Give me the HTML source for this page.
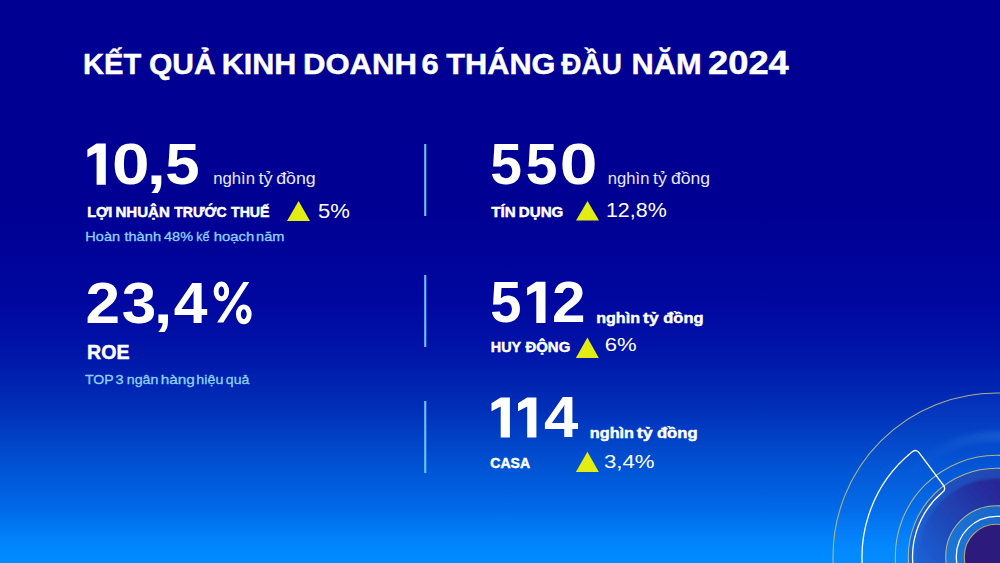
<!DOCTYPE html>
<html><head><meta charset="utf-8"><style>
html,body{margin:0;padding:0;width:1000px;height:563px;overflow:hidden;background:#000092}
svg{display:block;position:absolute;left:0;top:0}
text{font-family:"Liberation Sans",sans-serif}
.b{font-weight:bold}
</style></head><body>
<svg width="1000" height="563" viewBox="0 0 1000 563">
<defs>
<linearGradient id="bg" gradientUnits="userSpaceOnUse" x1="0" y1="0" x2="0" y2="563">
<stop offset="0" stop-color="#000092"/>
<stop offset="0.355" stop-color="#000092"/>
<stop offset="0.444" stop-color="#000398"/>
<stop offset="0.542" stop-color="#0008a0"/>
<stop offset="0.622" stop-color="#0014a8"/>
<stop offset="0.728" stop-color="#0030b8"/>
<stop offset="0.835" stop-color="#0055d5"/>
<stop offset="0.906" stop-color="#006ae8"/>
<stop offset="0.938" stop-color="#007af5"/>
<stop offset="0.977" stop-color="#0088ff"/>
<stop offset="1" stop-color="#008cff"/>
</linearGradient>
<linearGradient id="inner" gradientUnits="userSpaceOnUse" x1="1040" y1="480" x2="930" y2="580">
<stop offset="0" stop-color="#29208c"/>
<stop offset="0.3" stop-color="#262a9a"/>
<stop offset="0.7" stop-color="#1e4cbc"/>
<stop offset="1" stop-color="#1a62d6"/>
</linearGradient>
<linearGradient id="band" gradientUnits="userSpaceOnUse" x1="1040" y1="480" x2="930" y2="580">
<stop offset="0" stop-color="#2442aa"/>
<stop offset="0.5" stop-color="#1e50c0"/>
<stop offset="1" stop-color="#1a68da"/>
</linearGradient>
<linearGradient id="ring" gradientUnits="userSpaceOnUse" x1="1030" y1="520" x2="950" y2="570">
<stop offset="0" stop-color="#1a60c4"/>
<stop offset="1" stop-color="#1a78dc"/>
</linearGradient>
<linearGradient id="glow" gradientUnits="userSpaceOnUse" x1="900" y1="0" x2="1000" y2="0">
<stop offset="0" stop-color="#5aa8ff" stop-opacity="0"/>
<stop offset="0.4" stop-color="#5aa8ff" stop-opacity="0.05"/>
<stop offset="1" stop-color="#5aa8ff" stop-opacity="0.2"/>
</linearGradient>
<filter id="blur2" x="-20%" y="-20%" width="140%" height="140%"><feGaussianBlur stdDeviation="2.5"/></filter>
<filter id="blur1" x="-20%" y="-20%" width="140%" height="140%"><feGaussianBlur stdDeviation="1.2"/></filter>
</defs>
<rect width="1000" height="563" fill="url(#bg)"/>

<!-- decoration -->
<g fill="none">
<circle cx="996.6" cy="556.6" r="163.6" fill="#4aa0ff" fill-opacity="0.06"/>
<circle cx="996.6" cy="556.6" r="120.5" stroke="url(#glow)" stroke-width="10" filter="url(#blur2)"/>
<circle cx="996.6" cy="556.6" r="88.3" fill="url(#band)"/>
<circle cx="996.6" cy="556.6" r="78" fill="url(#inner)" filter="url(#blur1)"/>
<circle cx="996.6" cy="556.6" r="50.85" fill="url(#ring)"/>
<circle cx="996.6" cy="556.6" r="32.3" fill="#2c1a7c"/>
<circle cx="996.6" cy="556.6" r="163.6" stroke="#bcbc88" stroke-width="1.1" stroke-opacity="0.9"/>
<circle cx="996.6" cy="556.6" r="101.3" stroke="#bcbc88" stroke-width="1.1" stroke-opacity="0.9"/>
<circle cx="996.6" cy="556.6" r="88.3" stroke="#bcbc88" stroke-width="1.1" stroke-opacity="0.9"/>
<circle cx="996.6" cy="556.6" r="50.85" stroke="#bcbc88" stroke-width="1.1" stroke-opacity="0.9"/>
<circle cx="996.6" cy="556.6" r="40.3" stroke="#ffffff" stroke-width="1.3"/>
<circle cx="996.6" cy="556.6" r="32.3" stroke="#b8a070" stroke-width="1.1"/>
</g>
<!-- white annular sector -->
<path id="sector" d="M866.68 591.41 A134.50 134.50 0 0 1 912.27 451.82 Q916.22 448.76 919.21 452.77 L943.41 485.24 Q946.40 489.25 942.48 492.36 A84.00 84.00 0 0 0 915.46 578.34" fill="none" stroke="#fff" stroke-width="1.3" stroke-linejoin="round"/>

<!-- divider lines -->
<g fill="#6cc4ff">
<rect x="424.2" y="144" width="2.1" height="72"/>
<rect x="424.2" y="275" width="2.1" height="72"/>
<rect x="424.2" y="401" width="2.1" height="72"/>
</g>

<!-- triangles -->
<g fill="#e2ee12">
<polygon points="287,221 310,221 298.6,201"/>
<polygon points="576,220.6 599,220.6 587.5,201"/>
<polygon points="575.9,357.9 598.8,357.9 587.4,337.6"/>
<polygon points="575.9,471.9 598.8,471.9 587.4,451.7"/>
</g>

<g>
<text x="83.06" y="74.30" font-size="30" font-weight="bold" fill="#fffffe" stroke="#fff" stroke-width="0.45" textLength="58.24" lengthAdjust="spacingAndGlyphs">KẾT</text>
<text x="149.00" y="74.30" font-size="30" font-weight="bold" fill="#fffffe" stroke="#fff" stroke-width="0.45" textLength="66.67" lengthAdjust="spacingAndGlyphs">QUẢ</text>
<text x="221.77" y="74.30" font-size="30" font-weight="bold" fill="#fffffe" stroke="#fff" stroke-width="0.45" textLength="74.60" lengthAdjust="spacingAndGlyphs">KINH</text>
<text x="302.92" y="74.30" font-size="30" font-weight="bold" fill="#fffffe" stroke="#fff" stroke-width="0.45" textLength="114.15" lengthAdjust="spacingAndGlyphs">DOANH</text>
<text x="421.47" y="74.30" font-size="30" font-weight="bold" fill="#fffffe" stroke="#fff" stroke-width="0.45" textLength="17.24" lengthAdjust="spacingAndGlyphs">6</text>
<text x="446.30" y="74.30" font-size="30" font-weight="bold" fill="#fffffe" stroke="#fff" stroke-width="0.45" textLength="109.20" lengthAdjust="spacingAndGlyphs">THÁNG</text>
<text x="561.30" y="74.30" font-size="30" font-weight="bold" fill="#fffffe" stroke="#fff" stroke-width="0.45" textLength="60.56" lengthAdjust="spacingAndGlyphs">ĐẦU</text>
<text x="631.45" y="74.30" font-size="30" font-weight="bold" fill="#fffffe" stroke="#fff" stroke-width="0.45" textLength="70.14" lengthAdjust="spacingAndGlyphs">NĂM</text>
<text x="707.98" y="74.30" font-size="32.6" font-weight="bold" fill="#fffffe" stroke="#fff" stroke-width="0.45" textLength="80.86" lengthAdjust="spacingAndGlyphs">2024</text>
<text x="112.07" y="184.20" font-size="58" font-weight="bold" fill="#ffffff" textLength="37.57" lengthAdjust="spacingAndGlyphs">0</text>
<text x="146.75" y="184.20" font-size="58" font-weight="bold" fill="#ffffff" textLength="19.15" lengthAdjust="spacingAndGlyphs">,</text>
<text x="165.17" y="184.20" font-size="58" font-weight="bold" fill="#ffffff" textLength="34.38" lengthAdjust="spacingAndGlyphs">5</text>
<text x="213.15" y="184.40" font-size="16" fill="#e8e8ff" textLength="41.94" lengthAdjust="spacingAndGlyphs">nghìn</text>
<text x="258.40" y="184.40" font-size="16" fill="#e8e8ff" textLength="14.27" lengthAdjust="spacingAndGlyphs">tỷ</text>
<text x="276.19" y="184.40" font-size="16" fill="#e8e8ff" textLength="39.57" lengthAdjust="spacingAndGlyphs">đồng</text>
<text x="87.17" y="216.80" font-size="14" font-weight="bold" fill="#ffffff" stroke="#fff" stroke-width="0.45" textLength="25.24" lengthAdjust="spacingAndGlyphs">LỢI</text>
<text x="115.42" y="216.80" font-size="14" font-weight="bold" fill="#ffffff" stroke="#fff" stroke-width="0.45" textLength="54.38" lengthAdjust="spacingAndGlyphs">NHUẬN</text>
<text x="174.30" y="216.80" font-size="14" font-weight="bold" fill="#ffffff" stroke="#fff" stroke-width="0.45" textLength="52.34" lengthAdjust="spacingAndGlyphs">TRƯỚC</text>
<text x="231.00" y="216.80" font-size="14" font-weight="bold" fill="#ffffff" stroke="#fff" stroke-width="0.45" textLength="38.53" lengthAdjust="spacingAndGlyphs">THUẾ</text>
<text x="317.90" y="218.20" font-size="20" fill="#ffffff" textLength="31.90" lengthAdjust="spacingAndGlyphs">5%</text>
<text x="85.33" y="241.20" font-size="13.6" fill="#8ed2ff" stroke="#8ed2ff" stroke-width="0.3" textLength="34.81" lengthAdjust="spacingAndGlyphs">Hoàn</text>
<text x="124.40" y="241.20" font-size="13.6" fill="#8ed2ff" stroke="#8ed2ff" stroke-width="0.3" textLength="36.71" lengthAdjust="spacingAndGlyphs">thành</text>
<text x="164.00" y="241.20" font-size="13.6" fill="#8ed2ff" stroke="#8ed2ff" stroke-width="0.3" textLength="29.03" lengthAdjust="spacingAndGlyphs">48%</text>
<text x="196.28" y="241.20" font-size="13.6" fill="#8ed2ff" stroke="#8ed2ff" stroke-width="0.3" textLength="13.25" lengthAdjust="spacingAndGlyphs">kế</text>
<text x="213.70" y="241.20" font-size="13.6" fill="#8ed2ff" stroke="#8ed2ff" stroke-width="0.3" textLength="40.65" lengthAdjust="spacingAndGlyphs">hoạch</text>
<text x="256.13" y="241.20" font-size="13.6" fill="#8ed2ff" stroke="#8ed2ff" stroke-width="0.3" textLength="28.36" lengthAdjust="spacingAndGlyphs">năm</text>
<text x="85.56" y="322.90" font-size="58" font-weight="bold" fill="#ffffff" textLength="34.57" lengthAdjust="spacingAndGlyphs">2</text>
<text x="121.73" y="322.90" font-size="58" font-weight="bold" fill="#ffffff" textLength="34.49" lengthAdjust="spacingAndGlyphs">3</text>
<text x="153.65" y="322.90" font-size="58" font-weight="bold" fill="#ffffff" textLength="18.75" lengthAdjust="spacingAndGlyphs">,</text>
<text x="173.75" y="322.90" font-size="58" font-weight="bold" fill="#ffffff" textLength="33.72" lengthAdjust="spacingAndGlyphs">4</text>
<text x="87.10" y="358.90" font-size="19.6" font-weight="bold" fill="#ffffff" stroke="#fff" stroke-width="0.45" textLength="42.37" lengthAdjust="spacingAndGlyphs">ROE</text>
<text x="85.00" y="384.20" font-size="13.6" fill="#8ed2ff" stroke="#8ed2ff" stroke-width="0.3" textLength="28.73" lengthAdjust="spacingAndGlyphs">TOP</text>
<text x="115.53" y="384.20" font-size="13.6" fill="#8ed2ff" stroke="#8ed2ff" stroke-width="0.3" textLength="8.07" lengthAdjust="spacingAndGlyphs">3</text>
<text x="126.75" y="384.20" font-size="13.6" fill="#8ed2ff" stroke="#8ed2ff" stroke-width="0.3" textLength="31.71" lengthAdjust="spacingAndGlyphs">ngân</text>
<text x="160.67" y="384.20" font-size="13.6" fill="#8ed2ff" stroke="#8ed2ff" stroke-width="0.3" textLength="34.21" lengthAdjust="spacingAndGlyphs">hàng</text>
<text x="196.35" y="384.20" font-size="13.6" fill="#8ed2ff" stroke="#8ed2ff" stroke-width="0.3" textLength="26.99" lengthAdjust="spacingAndGlyphs">hiệu</text>
<text x="225.87" y="384.20" font-size="13.6" fill="#8ed2ff" stroke="#8ed2ff" stroke-width="0.3" textLength="23.41" lengthAdjust="spacingAndGlyphs">quả</text>
<text x="490.33" y="184.20" font-size="58" font-weight="bold" fill="#ffffff" textLength="31.71" lengthAdjust="spacingAndGlyphs">5</text>
<text x="525.63" y="184.20" font-size="58" font-weight="bold" fill="#ffffff" textLength="31.71" lengthAdjust="spacingAndGlyphs">5</text>
<text x="559.86" y="184.20" font-size="58" font-weight="bold" fill="#ffffff" textLength="37.68" lengthAdjust="spacingAndGlyphs">0</text>
<text x="607.86" y="184.40" font-size="16" fill="#e8e8ff" textLength="41.52" lengthAdjust="spacingAndGlyphs">nghìn</text>
<text x="653.10" y="184.40" font-size="16" fill="#e8e8ff" textLength="13.89" lengthAdjust="spacingAndGlyphs">tỷ</text>
<text x="670.90" y="184.40" font-size="16" fill="#e8e8ff" textLength="39.15" lengthAdjust="spacingAndGlyphs">đồng</text>
<text x="491.20" y="216.60" font-size="14" font-weight="bold" fill="#ffffff" stroke="#fff" stroke-width="0.45" textLength="24.41" lengthAdjust="spacingAndGlyphs">TÍN</text>
<text x="518.82" y="216.60" font-size="14" font-weight="bold" fill="#ffffff" stroke="#fff" stroke-width="0.45" textLength="44.51" lengthAdjust="spacingAndGlyphs">DỤNG</text>
<text x="605.93" y="217.40" font-size="20" fill="#ffffff" textLength="60.84" lengthAdjust="spacingAndGlyphs">12,8%</text>
<text x="490.26" y="322.20" font-size="58" font-weight="bold" fill="#ffffff" textLength="31.26" lengthAdjust="spacingAndGlyphs">5</text>
<text x="552.02" y="322.20" font-size="58" font-weight="bold" fill="#ffffff" textLength="33.53" lengthAdjust="spacingAndGlyphs">2</text>
<text x="596.16" y="322.70" font-size="15.5" font-weight="bold" fill="#ffffff" stroke="#fff" stroke-width="0.45" textLength="43.88" lengthAdjust="spacingAndGlyphs">nghìn</text>
<text x="643.10" y="322.70" font-size="15.5" font-weight="bold" fill="#ffffff" stroke="#fff" stroke-width="0.45" textLength="15.57" lengthAdjust="spacingAndGlyphs">tỷ</text>
<text x="663.34" y="322.70" font-size="15.5" font-weight="bold" fill="#ffffff" stroke="#fff" stroke-width="0.45" textLength="40.19" lengthAdjust="spacingAndGlyphs">đồng</text>
<text x="490.80" y="352.00" font-size="14.4" font-weight="bold" fill="#ffffff" stroke="#fff" stroke-width="0.45" textLength="30.29" lengthAdjust="spacingAndGlyphs">HUY</text>
<text x="525.40" y="352.00" font-size="14.4" font-weight="bold" fill="#ffffff" stroke="#fff" stroke-width="0.45" textLength="44.89" lengthAdjust="spacingAndGlyphs">ĐỘNG</text>
<text x="604.84" y="351.20" font-size="19" fill="#ffffff" textLength="31.91" lengthAdjust="spacingAndGlyphs">6%</text>
<text x="543.94" y="437.40" font-size="58" font-weight="bold" fill="#ffffff" textLength="34.35" lengthAdjust="spacingAndGlyphs">4</text>
<text x="589.75" y="437.80" font-size="15.5" font-weight="bold" fill="#ffffff" stroke="#fff" stroke-width="0.45" textLength="44.30" lengthAdjust="spacingAndGlyphs">nghìn</text>
<text x="636.70" y="437.80" font-size="15.5" font-weight="bold" fill="#ffffff" stroke="#fff" stroke-width="0.45" textLength="15.96" lengthAdjust="spacingAndGlyphs">tỷ</text>
<text x="656.93" y="437.80" font-size="15.5" font-weight="bold" fill="#ffffff" stroke="#fff" stroke-width="0.45" textLength="40.61" lengthAdjust="spacingAndGlyphs">đồng</text>
<text x="490.33" y="467.90" font-size="14.5" font-weight="bold" fill="#ffffff" stroke="#fff" stroke-width="0.45" textLength="39.76" lengthAdjust="spacingAndGlyphs">CASA</text>
<text x="604.03" y="467.90" font-size="19" fill="#ffffff" textLength="50.53" lengthAdjust="spacingAndGlyphs">3,4%</text>
<path fill="#fff" d="M96.50 143.50 H105.80 V184.80 H96.60 V152.50 L87.40 157.30 V149.40 Z"/>
<path fill="#fff" d="M536.20 281.80 H545.50 V322.90 H536.30 V290.80 L527.10 295.60 V287.70 Z"/>
<path fill="#fff" d="M500.60 397.40 H509.90 V437.60 H500.70 V406.40 L491.50 411.20 V403.30 Z"/>
<path fill="#fff" d="M527.10 397.40 H536.40 V437.60 H527.20 V406.40 L518.00 411.20 V403.30 Z"/>
<ellipse cx="221.4" cy="291.4" rx="5.3" ry="7.4" fill="none" stroke="#fff" stroke-width="4.9"/>
<ellipse cx="243.8" cy="314.3" rx="5.4" ry="7.4" fill="none" stroke="#fff" stroke-width="4.9"/>
<polygon fill="#fff" points="243.3,282 249.3,282 223.3,322.6 217.1,322.6"/>
</g>
</svg>
</body></html>
